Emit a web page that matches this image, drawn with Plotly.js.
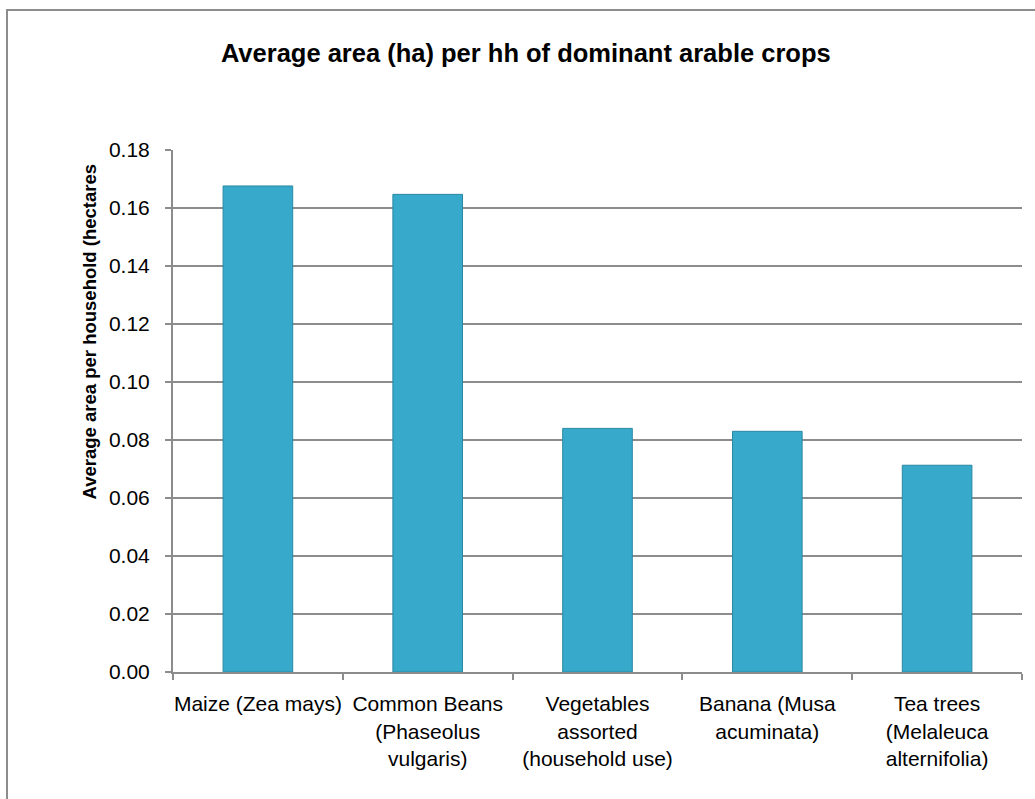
<!DOCTYPE html>
<html>
<head>
<meta charset="utf-8">
<script src="https://cdn.plot.ly/plotly-3.0.1.min.js"></script>
<style>
html,body{margin:0;padding:0;background:#fff;overflow:hidden;}
#frame{position:absolute;left:6px;top:9px;width:1200px;height:1000px;border-left:2px solid #8c8c8c;border-top:2px solid #8c8c8c;pointer-events:none;z-index:5;}
#chart{position:absolute;left:0;top:0;width:1035px;height:799px;}
</style>
</head>
<body>
<div id="chart"></div>
<div id="frame"></div>
<script>
const categories = [
  "Maize (Zea mays)",
  "Common Beans<br>(Phaseolus<br>vulgaris)",
  "Vegetables<br>assorted<br>(household use)",
  "Banana (Musa<br>acuminata)",
  "Tea trees<br>(Melaleuca<br>alternifolia)"
];
const areaValues = [0.1676, 0.1647, 0.0840, 0.0830, 0.0713];
const yTickValues = [0, 0.02, 0.04, 0.06, 0.08, 0.10, 0.12, 0.14, 0.16, 0.18];
const chartTitle = "Average area (ha) per hh of dominant arable crops";
const yTitle = "Average area per household (hectares";

const font = "Liberation Sans, Arial, sans-serif";

const data = [{
  type: "bar",
  x: categories,
  y: areaValues,
  marker: {color: "#37aacb", line: {color: "#2a88a2", width: 1}},
  width: 0.41,
  hoverinfo: "skip"
}];

const layout = {
  width: 1035, height: 799,
  margin: {l: 173, r: 13, t: 150, b: 127},
  paper_bgcolor: "#fff", plot_bgcolor: "#fff",
  showlegend: false,
  font: {family: font, size: 21, color: "#000"},
  title: {text: "<b>" + chartTitle + "</b>", font: {family: font, size: 25.5, color: "#000"},
          x: 0.508, xanchor: "center", y: 0.933, yanchor: "middle"},
  xaxis: {
    type: "category",
    showline: true, linecolor: "#8c8c8c", linewidth: 2,
    ticks: "outside", tickson: "boundaries", ticklen: 6, tickcolor: "#8c8c8c", tickwidth: 2,
    tickfont: {family: font, size: 21, color: "#000"},
    showgrid: false, tickangle: 0, automargin: false,
    ticklabelstandoff: 12
  },
  yaxis: {
    range: [0, 0.18], tickvals: yTickValues, tickformat: ".2f",
    showline: true, linecolor: "#8c8c8c", linewidth: 2,
    ticks: "outside", ticklen: 6, tickcolor: "#8c8c8c", tickwidth: 2,
    showgrid: true, gridcolor: "#8c8c8c", gridwidth: 2,
    zeroline: false,
    tickfont: {family: font, size: 21, color: "#000"},
    automargin: false, ticklabelstandoff: 11
  },
  annotations: [{
    text: "<b>" + yTitle + "</b>", textangle: -90,
    xref: "paper", yref: "paper", x: -0.098, y: 0.652,
    xanchor: "center", yanchor: "middle", showarrow: false,
    font: {family: font, size: 18.5, color: "#000"}
  }]
};

Plotly.newPlot("chart", data, layout, {displayModeBar: false, staticPlot: true});
</script>
</body>
</html>
